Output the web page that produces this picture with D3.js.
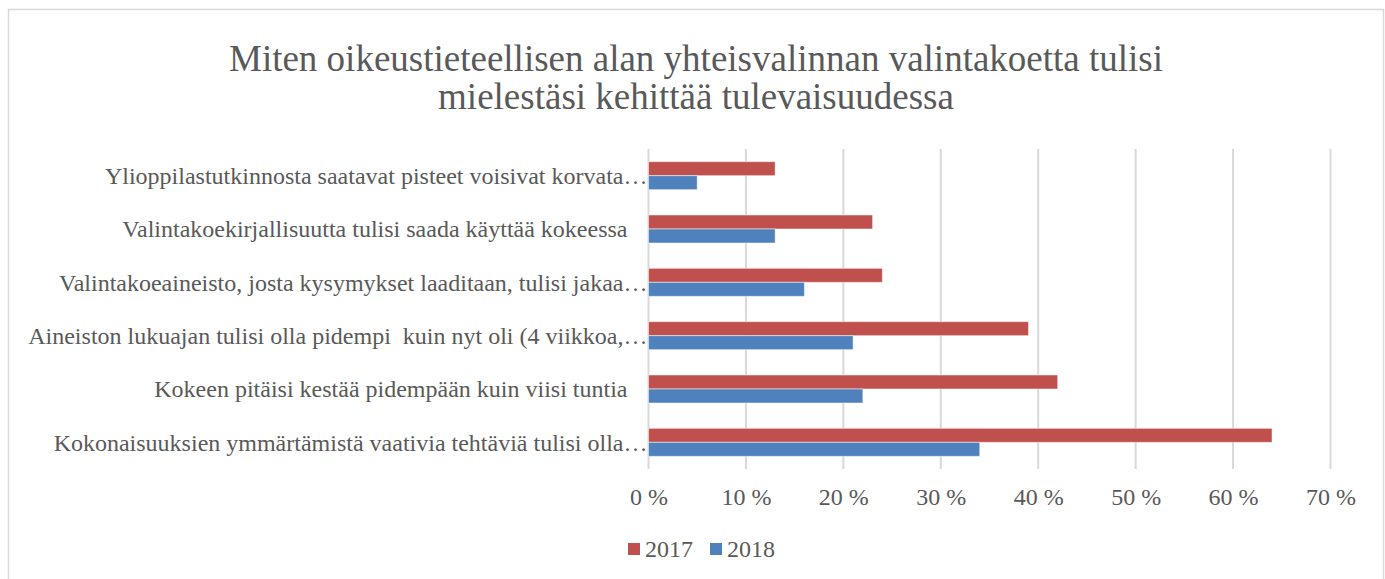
<html>
<head>
<meta charset="utf-8">
<script src="https://d3js.org/d3.v7.min.js"></script>
<style>
  body { margin: 0; background: #fff; }
  text { font-family: "Liberation Serif", "Times New Roman", Times, serif; fill: #595959; }
</style>
</head>
<body>
<svg id="chart" width="1385" height="579"></svg>
<script>
// data
var categories = [
  "Ylioppilastutkinnosta saatavat pisteet voisivat korvata…",
  "Valintakoekirjallisuutta tulisi saada käyttää kokeessa",
  "Valintakoeaineisto, josta kysymykset laaditaan, tulisi jakaa…",
  "Aineiston lukuajan tulisi olla pidempi  kuin nyt oli (4 viikkoa,…",
  "Kokeen pitäisi kestää pidempään kuin viisi tuntia",
  "Kokonaisuuksien ymmärtämistä vaativia tehtäviä tulisi olla…"
];
var years = ["2017", "2018"];
var values2017 = [13, 23, 24, 39, 42, 64];
var values2018 = [5, 13, 16, 21, 22, 34];
var tickValues = [0, 10, 20, 30, 40, 50, 60, 70];
var titleLines = [
  "Miten oikeustieteellisen alan yhteisvalinnan valintakoetta tulisi",
  "mielestäsi kehittää tulevaisuudessa"
];
var colors = { "2017": "#C0504D", "2018": "#4F81BD" };

var font = "'Liberation Serif', 'Times New Roman', Times, serif";
var svg = d3.select("#chart");

// chart frame
svg.append("rect").attr("x", 8.5).attr("y", 9.5).attr("width", 1375).attr("height", 600)
  .attr("fill", "none").attr("stroke", "#D9D9D9").attr("stroke-width", 1.5);

var x = d3.scaleLinear().domain([0, 70]).range([648.5, 1330.5]);
var y = d3.scaleBand().domain(categories).range([149, 469]).paddingInner(0.475).paddingOuter(0.2375);
var ySub = d3.scaleBand().domain(years).range([0, y.bandwidth()]);

// title
svg.append("g").selectAll("text").data(titleLines).enter().append("text")
  .attr("x", 696).attr("y", function(d, i) { return 71 + i * 38; })
  .attr("text-anchor", "middle").style("font-size", "37px").style("font-family", font)
  .text(function(d) { return d; });

// gridlines
svg.append("g").selectAll("line").data(tickValues).enter().append("line")
  .attr("x1", function(d) { return x(d); }).attr("x2", function(d) { return x(d); })
  .attr("y1", 149).attr("y2", 469)
  .attr("stroke", "#D9D9D9").attr("stroke-width", 2);

// bars
var rows = categories.map(function(c, i) { return { cat: c, "2017": values2017[i], "2018": values2018[i] }; });
var groups = svg.append("g").selectAll("g").data(rows).enter().append("g")
  .attr("transform", function(d) { return "translate(0," + y(d.cat) + ")"; });
groups.selectAll("rect").data(function(d) { return years.map(function(k) { return { key: k, value: d[k] }; }); })
  .enter().append("rect")
  .attr("x", x(0))
  .attr("y", function(d) { return ySub(d.key); })
  .attr("width", function(d) { return x(d.value) - x(0); })
  .attr("height", ySub.bandwidth())
  .attr("fill", function(d) { return colors[d.key]; })
  .attr("stroke", "#fff").attr("stroke-opacity", 0.5).attr("stroke-width", 1);

// category labels
svg.append("g").selectAll("text").data(categories).enter().append("text")
  .attr("x", function(d) { return d.slice(-1) === "…" ? x(0) - 1 : x(0) - 21; })
  .attr("y", function(d) { return y(d) + y.bandwidth() / 2; })
  .attr("dy", "0.35em").attr("text-anchor", "end")
  .style("font-size", "24px").style("font-family", font).style("white-space", "pre")
  .text(function(d) { return d; });

// x axis labels
var xAxis = svg.append("g").attr("transform", "translate(0,469)")
  .call(d3.axisBottom(x).tickValues(tickValues).tickSize(0)
    .tickFormat(function(d) { return d + " %"; }));
xAxis.select(".domain").remove();
xAxis.selectAll("text").attr("fill", null).attr("y", 28).attr("dy", "0.35em")
  .style("font-size", "24px").style("font-family", font);

// legend
var legend = svg.append("g").selectAll("g").data(years).enter().append("g")
  .attr("transform", function(d, i) { return "translate(" + (628 + i * 82) + ",543)"; });
legend.append("rect").attr("width", 12).attr("height", 12)
  .attr("fill", function(d) { return colors[d]; });
legend.append("text").attr("x", 17).attr("y", 6).attr("dy", "0.35em")
  .style("font-size", "24px").style("font-family", font).text(function(d) { return d; });
</script>
</body>
</html>
